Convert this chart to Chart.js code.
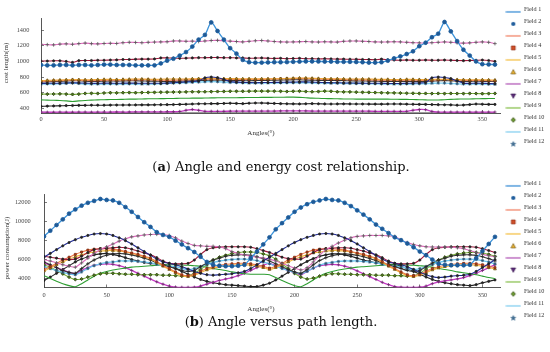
<!DOCTYPE html>
<html><head><meta charset="utf-8">
<script src="https://cdn.jsdelivr.net/npm/chart.js@4"></script>
<style>
html,body{margin:0;padding:0;background:#fff;}
body{width:550px;height:352px;position:relative;overflow:hidden;}
canvas{position:absolute;left:0;}
.cap{position:absolute;font-family:'DejaVu Serif',serif;font-size:13px;line-height:13px;color:#111;white-space:nowrap;transform:translateX(-50%);}
.yt{position:absolute;font-family:'Liberation Serif',serif;font-size:7px;color:#333;white-space:nowrap;transform:translate(-50%,-50%) rotate(-90deg);}
.xt{position:absolute;font-family:'Liberation Serif',serif;font-size:7px;color:#333;white-space:nowrap;transform:translate(-50%,-50%);}
</style></head>
<body>
<canvas id="c1" width="550" height="152" style="top:0px"></canvas>
<canvas id="c2" width="550" height="150" style="top:174px"></canvas>
<div class="yt" style="left:6px;top:63px;">cost length(m)</div>
<div class="xt" style="left:261px;top:133px;">Angles(°)</div>
<div class="cap" style="left:281px;top:160px;">(<b>a</b>) Angle and energy cost relationship.</div>
<div class="yt" style="left:6.5px;top:248px;">power consumption(J)</div>
<div class="xt" style="left:261px;top:308.5px;">Angles(°)</div>
<div class="cap" style="left:281px;top:315px;">(<b>b</b>) Angle versus path length.</div>
<script>
const ANGLES = [0,5,10,15,20,25,30,35,40,45,50,55,
60,65,70,75,80,85,90,95,100,105,110,115,
120,125,130,135,140,145,150,155,160,165,170,175,
180,185,190,195,200,205,210,215,220,225,230,235,
240,245,250,255,260,265,270,275,280,285,290,295,
300,305,310,315,320,325,330,335,340,345,350,355,
360];
const X_TICKS = [0,50,100,150,200,250,300,350];
const Y_TICKS_A = [400,600,800,1000,1200,1400];
const Y_TICKS_B = [4000,6000,8000,10000,12000];
const LEGEND_LABELS = ['Field 1','Field 2','Field 3','Field 4','Field 5','Field 6','Field 7','Field 8','Field 9','Field 10','Field 11','Field 12'];

// ---- (a) cost length ----
const A_BLUE = [955,950,950,955,955,950,955,955,950,955,960,960,
955,955,955,950,950,950,950,975,1010,1035,1075,1120,
1190,1280,1340,1500,1390,1280,1170,1100,1020,990,985,985,
988,990,990,992,995,998,1000,1000,1000,998,998,995,
995,995,993,990,985,985,990,1010,1040,1065,1095,1130,
1195,1240,1310,1355,1505,1385,1260,1150,1075,1000,965,962,
960];
const A_PINK = [1220,1215,1212,1222,1225,1220,1228,1235,1228,1225,1230,1232,
1230,1240,1245,1243,1240,1245,1248,1250,1252,1262,1262,1258,
1260,1255,1262,1268,1270,1265,1260,1255,1250,1258,1265,1268,
1262,1255,1250,1248,1250,1252,1255,1250,1248,1252,1250,1248,
1258,1262,1262,1258,1255,1250,1248,1250,1252,1250,1245,1240,
1238,1235,1240,1245,1250,1245,1238,1235,1238,1245,1250,1245,
1228];
const A_CRIMSON = [1005,1005,1008,1008,1000,988,1010,1012,1012,1015,1015,1018,
1020,1025,1025,1028,1030,1030,1032,1045,1045,1042,1040,1042,
1045,1048,1048,1050,1050,1048,1048,1045,1045,1040,1042,1045,
1040,1038,1040,1035,1038,1040,1035,1035,1032,1035,1032,1030,
1030,1028,1028,1025,1025,1022,1030,1022,1018,1015,1018,1015,
1015,1018,1015,1015,1018,1015,1012,1010,1012,1015,1018,1012,
1000];
const A_ORANGE = [755,758,760,762,765,768,766,765,766,768,770,770,
768,770,772,775,775,772,770,772,775,776,776,775,
778,780,782,785,782,780,780,780,778,778,776,778,
778,778,780,782,785,788,788,785,782,780,778,778,
776,775,775,775,774,772,770,770,768,768,770,770,
768,768,770,772,772,770,768,765,765,766,765,764,
762];
const A_SALMON = [745,748,752,755,758,762,760,758,755,756,758,760,
760,762,762,765,766,765,762,760,758,760,762,765,
768,770,772,775,775,772,770,770,768,770,770,770,
772,775,778,780,780,782,780,778,775,772,770,770,
768,766,765,765,764,762,760,760,758,758,760,760,
758,758,760,765,768,765,760,758,756,758,756,755,
752];
const A_BLACKPLUS = [735,740,742,745,750,755,752,748,745,745,748,750,
748,750,752,752,750,748,748,745,742,745,748,750,
752,755,758,760,762,758,755,755,755,752,755,758,
758,760,762,762,765,765,762,760,758,758,756,755,
755,752,750,750,748,748,745,745,745,744,745,745,
744,745,748,752,755,752,748,745,745,746,745,744,
742];
const A_NAVY = [718,720,720,722,725,728,725,722,720,720,722,722,
720,722,722,722,720,720,720,720,722,728,732,738,
742,750,790,800,792,770,742,735,732,730,728,730,
730,732,732,735,735,738,738,735,732,730,728,728,
725,725,722,722,720,720,720,718,718,718,720,722,
725,730,790,800,795,780,750,722,720,722,720,718,
715];
const A_LBLUE = [710,712,712,715,718,722,718,712,710,710,712,712,
710,712,712,712,710,710,712,715,718,722,725,728,
732,735,740,742,740,735,730,728,725,722,722,722,
724,725,725,726,726,728,728,726,724,722,720,720,
718,718,716,716,715,714,712,712,710,710,712,712,
714,716,720,722,722,718,714,710,710,712,710,708,
706];
const A_OLIVE = [582,582,583,585,582,578,582,590,592,590,596,600,
598,600,602,600,602,603,604,606,607,608,608,610,
612,612,612,614,615,616,618,618,618,619,620,620,
620,619,618,615,618,620,615,612,615,620,618,612,
610,610,607,605,604,602,600,598,597,595,593,592,
590,590,589,590,589,590,589,589,590,589,588,589,
590];
const A_GREEN = [508,505,503,500,495,488,495,500,505,508,510,512,
512,515,518,518,520,522,522,524,525,526,528,528,
530,530,532,533,535,535,536,536,537,538,538,540,
540,541,542,543,543,540,535,530,528,525,524,522,
520,520,518,518,518,518,518,517,516,515,514,512,
510,508,506,507,510,514,518,520,520,522,524,525,
525];
const A_BLACK = [425,428,430,432,435,436,438,438,440,440,440,441,
442,442,443,443,444,444,445,446,447,448,450,452,
455,458,458,460,460,462,465,462,460,465,468,468,
465,462,460,458,457,456,458,460,458,456,455,456,
457,456,455,455,454,454,453,455,456,455,453,452,
450,450,448,446,445,444,440,442,448,455,452,450,
450];
const A_MAGENTA = [352,350,350,352,350,350,352,352,350,352,352,352,
353,352,353,354,354,355,355,355,356,356,360,375,
385,375,362,362,362,362,363,363,364,364,364,365,
365,365,366,366,366,366,366,365,365,365,365,364,
364,364,363,363,363,362,362,362,362,361,362,375,
385,382,360,352,352,352,352,352,352,352,352,352,
352];
const A_GRAY = [345,344,343,343,343,343,343,343,343,343,343,343,
343,343,343,343,343,343,343,343,343,343,343,343,
343,343,343,343,343,343,343,343,343,343,343,343,
343,343,343,343,343,343,343,343,343,343,343,343,
343,343,343,343,343,343,343,343,343,343,343,343,
343,343,343,343,343,343,343,343,343,343,343,343,
343];

// ---- (b) power consumption ----
const B_BLUE = [8400,9000,9600,10200,10800,11250,11650,11950,12150,12350,12250,12200,
11950,11500,11000,10450,9900,9400,8850,8550,8350,7950,7550,7150,
6750,6250,5700,5400,5300,5250,5250,5300,5400,6100,6800,7550,
8300,9150,9800,10400,11000,11450,11800,12050,12200,12350,12250,12200,
11950,11600,11150,10700,10200,9650,9200,8750,8300,8000,7650,7250,
6800,6400,5950,5500,5400,5350,5350,5350,5400,6100,6850,7600,
8350];
const B_NAVY = [6200,6600,7000,7400,7750,8050,8300,8500,8650,8700,8650,8500,
8250,7950,7600,7200,6800,6400,6000,5700,5550,5400,5200,4950,
4700,4500,4350,4300,4350,4400,4450,4550,4700,5000,5400,5800,
6200,6600,7000,7400,7750,8050,8300,8500,8650,8700,8650,8500,
8250,7950,7600,7200,6800,6400,6000,5700,5550,5400,5200,4900,
4600,4350,4150,4050,4100,4200,4250,4300,4400,4700,5100,5500,
5950];
const B_PINK = [5950,5800,5600,5400,5250,5150,5600,6100,6600,7000,7300,7600,
7900,8150,8350,8450,8550,8600,8620,8600,8500,8250,7900,7650,
7450,7400,7350,7350,7300,7100,6800,6600,6450,6300,6200,6100,
6000,5800,5550,5300,5050,4850,5100,5700,6400,7000,7350,7700,
8000,8250,8400,8450,8500,8500,8500,8450,8400,8000,7750,7550,
7400,7300,7280,7280,7280,7250,7200,7100,6900,6700,6500,6350,
6250];
const B_MAGENTA = [5600,5350,5100,4850,4600,4450,4800,5100,5350,5450,5500,5450,
5300,5100,4800,4500,4200,3900,3600,3350,3150,3050,3020,3020,
3030,3150,3350,3550,3750,3900,4050,4250,4500,4800,5100,5350,
5550,5300,5050,4800,4550,4350,4700,5050,5300,5400,5450,5400,
5250,5050,4750,4450,4150,3850,3550,3300,3100,3030,3020,3020,
3030,3150,3400,3600,3700,3800,3900,4050,4250,4500,4800,5100,
5400];
const B_GREEN = [4250,3950,3650,3400,3200,3080,3400,3800,4200,4500,4700,4850,
4950,5050,5150,5200,5250,5300,5350,5380,5400,5400,5380,5350,
5300,5250,5150,5000,4900,4800,4650,4550,4450,4400,4400,4400,
4350,4050,3750,3450,3200,3080,3400,3800,4200,4500,4700,4850,
4950,5050,5150,5200,5250,5300,5350,5390,5400,5400,5380,5350,
5300,5250,5150,5000,4900,4800,4650,4550,4450,4350,4200,4050,
3950];
const B_OLIVE = [5400,5150,4800,4450,4100,3850,3900,4100,4300,4450,4500,4500,
4450,4400,4400,4350,4350,4350,4350,4300,4300,4250,4200,4250,
4500,4900,5400,5900,6200,6400,6600,6700,6750,6750,6700,6550,
6350,6000,5500,5000,4500,4100,3900,4000,4200,4350,4450,4450,
4400,4400,4350,4350,4350,4300,4300,4300,4250,4250,4200,4250,
4500,4950,5450,5900,6200,6400,6550,6650,6700,6700,6650,6500,
6300];
const B_ORANGE = [4900,5200,5550,5900,6200,6500,6750,6950,7050,7100,7100,7050,
6950,6800,6650,6500,6300,6100,5750,5350,5000,4650,4350,4250,
4400,4700,5000,5200,5350,5450,5500,5550,5550,5500,5400,5250,
5050,5250,5550,5900,6200,6500,6750,6950,7050,7100,7100,7050,
6950,6800,6650,6500,6300,6100,5750,5350,5000,4650,4350,4250,
4400,4700,5000,5200,5350,5450,5500,5550,5550,5500,5400,5250,
5100];
const B_YELLOW = [4750,5050,5400,5700,6000,6250,6450,6650,6750,6850,6900,6900,
6850,6750,6600,6450,6250,6000,5650,5250,4900,4550,4250,4150,
4300,4550,4850,5050,5200,5300,5350,5400,5400,5350,5250,5100,
4900,5100,5400,5700,6000,6250,6450,6650,6750,6850,6900,6900,
6850,6750,6600,6450,6250,6000,5650,5250,4900,4550,4250,4150,
4300,4550,4850,5050,5200,5300,5350,5400,5400,5350,5250,5100,
4950];
const B_CRIMSON = [6300,6200,6100,6000,5950,6000,6300,6700,7000,7100,7150,7200,
7250,7200,7050,6850,6650,6450,6150,5800,5550,5500,5500,5550,
5900,6500,7000,7200,7250,7300,7300,7300,7300,7250,7100,6900,
6700,6450,6200,6050,6000,6000,6300,6700,7000,7100,7150,7200,
7200,7150,7000,6850,6650,6450,6150,5800,5550,5500,5500,5550,
5900,6500,7000,7200,7250,7300,7300,7300,7300,7250,7100,6900,
6700];
const B_BLACKPLUS = [5700,5400,5100,4800,4600,4500,5000,5500,5900,6200,6400,6550,
6600,6550,6450,6300,6100,5900,5600,5400,5200,5000,4800,4700,
4800,5200,5600,5900,6100,6300,6400,6450,6450,6400,6250,6050,
5800,5500,5200,4900,4650,4500,4900,5400,5850,6150,6350,6500,
6550,6500,6400,6250,6050,5850,5600,5400,5200,5000,4800,4700,
4800,5200,5600,5900,6100,6300,6400,6450,6450,6400,6250,6050,
5800];
const B_LBLUE = [5200,5000,4800,4600,4450,4350,4650,5000,5300,5500,5650,5700,
5800,5800,5800,5750,5700,5600,5450,5300,5250,5200,5000,4900,
5000,5200,5450,5650,5800,5900,5950,6000,6000,5950,5850,5700,
5500,5250,5000,4800,4600,4450,4700,5050,5350,5550,5650,5750,
5800,5800,5800,5750,5700,5600,5450,5300,5250,5200,5000,4900,
5000,5200,5450,5650,5800,5900,5950,6000,6000,5950,5850,5700,
5500];
const B_BLACKLOW = [3750,4100,4500,4900,5300,5700,6000,6250,6450,6550,6600,6500,
6350,6150,5950,5800,5650,5550,5500,5450,5300,5000,4700,4400,
4100,3850,3650,3500,3400,3300,3250,3200,3150,3100,3100,3250,
3450,3800,4200,4600,5000,5400,5750,6050,6300,6450,6550,6550,
6450,6300,6100,5900,5750,5600,5500,5450,5400,5250,5000,4700,
4400,4100,3850,3650,3500,3400,3300,3250,3200,3300,3500,3650,
3800];

Chart.defaults.font.family = "'Liberation Serif','Times New Roman',serif";
Chart.defaults.color = '#333';

function icon(draw){
  const c = document.createElement('canvas'); c.width = 16; c.height = 12;
  const g = c.getContext('2d'); draw(g); return c;
}
function lineIcon(col){ return icon(g=>{ g.strokeStyle=col; g.lineWidth=1.3; g.beginPath(); g.moveTo(0.5,9); g.lineTo(15.5,9); g.stroke(); }); }
function polyIcon(pts, fill, edge){ return icon(g=>{ g.fillStyle=fill; g.strokeStyle=edge; g.lineWidth=0.6; g.beginPath(); pts.forEach((p,i)=> i? g.lineTo(p[0],p[1]) : g.moveTo(p[0],p[1])); g.closePath(); g.fill(); g.stroke(); }); }
function starPts(cx,cy,ro,ri){ const p=[]; for(let k=0;k<10;k++){ const r=k%2?ri:ro; const a=-Math.PI/2+k*Math.PI/5; p.push([cx+r*Math.cos(a), cy+r*Math.sin(a)]); } return p; }
const ICONS = [
  lineIcon('#3b8fd6'),
  icon(g=>{ g.fillStyle='#1f5d9c'; g.beginPath(); g.arc(8,9,2.1,0,Math.PI*2); g.fill(); }),
  lineIcon('#f2866a'),
  polyIcon([[6,7],[10,7],[10,11],[6,11]], '#d0502a', '#8a2a10'),
  lineIcon('#f5c24a'),
  polyIcon([[8,6.6],[10.4,11],[5.6,11]], '#e8b030', '#6a5010'),
  lineIcon('#b35cb8'),
  polyIcon([[5.6,7],[10.4,7],[8,11.4]], '#5a2a78', '#3a1a50'),
  lineIcon('#8cc152'),
  polyIcon([[8,6.6],[10.2,9],[8,11.4],[5.8,9]], '#6b9a2e', '#2a3a10'),
  lineIcon('#86d0f0'),
  polyIcon(starPts(8,9.2,2.6,1.1), '#3d6a8e', '#3d6a8e')
];

function ds(values, s){
  return Object.assign({
    data: ANGLES.map((x,i)=>({x:x, y:values[i]})),
    borderWidth: 1.1, tension: 0.25, fill: false,
    pointRadius: 1.3, pointBorderWidth: 0.8, pointHoverRadius: 0
  }, s);
}

function makeChart(id, datasets, yMin, yMax, yTicks, axisW, axisH, yPad, xPad){
  return new Chart(document.getElementById(id), {
    type: 'line',
    data: { datasets: datasets },
    options: {
      responsive: false, animation: false, events: [],
      layout: { padding: 0 },
      plugins: {
        tooltip: { enabled: false },
        legend: {
          position: 'right', align: 'start', maxWidth: 50,
          labels: {
            usePointStyle: true, pointStyleWidth: 15, padding: 5.8,
            font: { size: 6.2 }, color: '#333',
            generateLabels: () => LEGEND_LABELS.map((t,i)=>({
              text: t, pointStyle: ICONS[i], fillStyle: '#000', strokeStyle: '#000',
              lineWidth: 0, hidden: false, fontColor: '#333', datasetIndex: i
            }))
          }
        }
      },
      scales: {
        x: {
          type: 'linear', min: 0, max: 364,
          afterBuildTicks: s => { s.ticks = X_TICKS.map(v=>({value:v})); },
          afterFit: s => { s.height = axisH; },
          ticks: { autoSkip: false, maxRotation: 0, padding: xPad, font: { size: 6.3 }, color: '#444', callback: v => String(v) },
          grid: { display: true, drawOnChartArea: false, drawTicks: true, tickLength: -3, color: '#444', tickWidth: 0.7 },
          border: { display: true, color: '#444', width: 0.9 }
        },
        y: {
          type: 'linear', min: yMin, max: yMax,
          afterBuildTicks: s => { s.ticks = yTicks.map(v=>({value:v})); },
          afterFit: s => { s.width = axisW; },
          ticks: { padding: yPad, font: { size: 6.3 }, color: '#444', callback: v => String(v) },
          grid: { display: true, drawOnChartArea: false, drawTicks: true, tickLength: -3, color: '#444', tickWidth: 0.7 },
          border: { display: true, color: '#444', width: 0.9 }
        }
      }
    }
  });
}

const dark = '#222';
makeChart('c1', [
  ds(A_BLUE,     { borderColor:'#3b92d9', borderWidth:1.3, pointStyle:'circle', pointRadius:1.9, pointBackgroundColor:'#1d5a98', pointBorderColor:'#1d5a98' }),
  ds(A_NAVY,     { borderColor:'#1f2a90', pointStyle:'circle', pointRadius:1.1, pointBackgroundColor:dark, pointBorderColor:dark }),
  ds(A_PINK,     { borderColor:'#de6cbe', pointStyle:'cross', pointRadius:1.8, pointBorderColor:'#555' }),
  ds(A_CRIMSON,  { borderColor:'#a0183c', pointStyle:'circle', pointRadius:1.1, pointBackgroundColor:dark, pointBorderColor:dark }),
  ds(A_ORANGE,   { borderColor:'#f4a83a', pointStyle:'triangle', pointRadius:1.6, pointBackgroundColor:'#c89020', pointBorderColor:'#6a5010' }),
  ds(A_SALMON,   { borderColor:'#ee7d5a', pointStyle:'rect', pointRadius:1.4, pointBackgroundColor:'#c0441c', pointBorderColor:'#7a2a10' }),
  ds(A_BLACKPLUS,{ borderColor:'#3a3a3a', pointStyle:'cross', pointRadius:1.8, pointBorderColor:dark }),
  ds(A_LBLUE,    { borderColor:'#7fcff2', borderWidth:1.4, pointStyle:'star', pointRadius:1.6, pointBorderColor:'#2f5575' }),
  ds(A_OLIVE,    { borderColor:'#7db443', pointStyle:'rectRot', pointRadius:1.6, pointBackgroundColor:'#4f7a1c', pointBorderColor:'#2a3a10' }),
  ds(A_GREEN,    { borderColor:'#2e9e32', pointRadius:0 }),
  ds(A_BLACK,    { borderColor:'#222', pointStyle:'circle', pointRadius:1.1, pointBackgroundColor:dark, pointBorderColor:dark }),
  ds(A_MAGENTA,  { borderColor:'#c638c6', borderWidth:1.3, pointStyle:'cross', pointRadius:1.6, pointBorderColor:'#6a2a6a' }),
  ds(A_GRAY,     { borderColor:'#9a9a9a', borderWidth:1.6, pointRadius:0 })
], 340, 1550, Y_TICKS_A, 41, 39, 14.7, 5.5);

makeChart('c2', [
  ds(B_BLUE,     { borderColor:'#3b92d9', borderWidth:1.3, pointStyle:'circle', pointRadius:1.9, pointBackgroundColor:'#1d5a98', pointBorderColor:'#1d5a98' }),
  ds(B_NAVY,     { borderColor:'#1f2a90', pointStyle:'circle', pointRadius:1.1, pointBackgroundColor:dark, pointBorderColor:dark }),
  ds(B_PINK,     { borderColor:'#de6cbe', pointStyle:'cross', pointRadius:1.8, pointBorderColor:'#555' }),
  ds(B_CRIMSON,  { borderColor:'#a0183c', pointStyle:'circle', pointRadius:1.1, pointBackgroundColor:dark, pointBorderColor:dark }),
  ds(B_ORANGE,   { borderColor:'#ee7d4a', pointStyle:'rect', pointRadius:1.4, pointBackgroundColor:'#c0441c', pointBorderColor:'#7a2a10' }),
  ds(B_YELLOW,   { borderColor:'#f4b83a', pointStyle:'triangle', pointRadius:1.6, pointBackgroundColor:'#c89020', pointBorderColor:'#6a5010' }),
  ds(B_BLACKPLUS,{ borderColor:'#3a3a3a', pointStyle:'cross', pointRadius:1.8, pointBorderColor:dark }),
  ds(B_LBLUE,    { borderColor:'#6cc6f0', borderWidth:1.3, pointStyle:'star', pointRadius:1.6, pointBorderColor:'#2f5575' }),
  ds(B_OLIVE,    { borderColor:'#7db443', pointStyle:'rectRot', pointRadius:1.6, pointBackgroundColor:'#4f7a1c', pointBorderColor:'#2a3a10' }),
  ds(B_GREEN,    { borderColor:'#2e9e32', pointRadius:0 }),
  ds(B_MAGENTA,  { borderColor:'#c638c6', borderWidth:1.3, pointStyle:'cross', pointRadius:1.6, pointBorderColor:'#6a2a6a' }),
  ds(B_BLACKLOW, { borderColor:'#222', pointStyle:'circle', pointRadius:1.1, pointBackgroundColor:dark, pointBorderColor:dark })
], 3000, 12870, Y_TICKS_B, 44, 36.5, 16.3, 6.7);
</script>
</body></html>
